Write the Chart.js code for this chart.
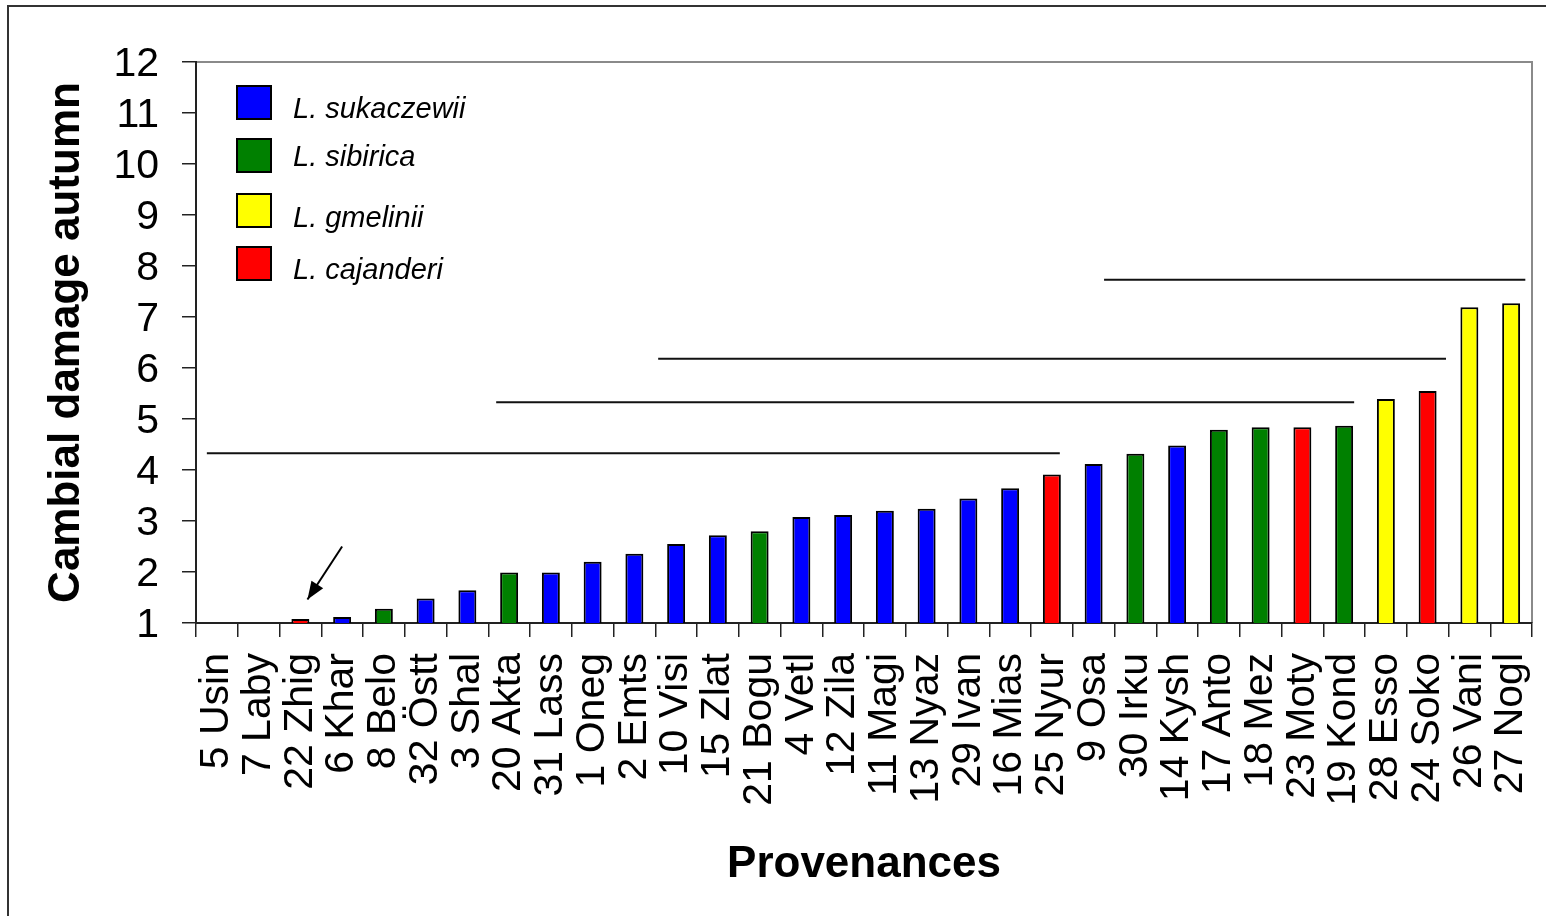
<!DOCTYPE html>
<html>
<head>
<meta charset="utf-8">
<title>Cambial damage autumn by provenance</title>
<script src="https://cdn.jsdelivr.net/npm/chart.js@4.4.1/dist/chart.umd.min.js"></script>
<style>
  html, body { margin: 0; padding: 0; background: #ffffff; }
  canvas { display: block; }
</style>
</head>
<body>
<canvas id="chart" width="1546" height="916"></canvas>
<script>
// Provenances, ordered by increasing damage score
const provenances = [
  "5 Usin", "7 Laby", "22 Zhig", "6 Khar", "8 Belo", "32 Östt", "3 Shal", "20 Akta",
  "31 Lass", "1 Oneg", "2 Emts", "10 Visi", "15 Zlat", "21 Bogu", "4 Vetl", "12 Zila",
  "11 Magi", "13 Nyaz", "29 Ivan", "16 Mias", "25 Nyur", "9 Osa", "30 Irku", "14 Kysh",
  "17 Anto", "18 Mez", "23 Moty", "19 Kond", "28 Esso", "24 Soko", "26 Vani", "27 Nogl"
];

// Mean cambial damage in autumn (scale 1-12)
const damage = [
  1.00, 1.00, 1.08, 1.12, 1.28, 1.48, 1.64, 1.99,
  1.99, 2.20, 2.36, 2.55, 2.72, 2.80, 3.08, 3.12,
  3.20, 3.24, 3.44, 3.64, 3.91, 4.12, 4.32, 4.48,
  4.79, 4.84, 4.84, 4.87, 5.39, 5.55, 7.19, 7.27
];

// Species of each provenance (index into speciesNames)
const speciesOf = [
  0, 0, 3, 0, 1, 0, 0, 1,
  0, 0, 0, 0, 0, 1, 0, 0,
  0, 0, 0, 0, 3, 0, 1, 0,
  1, 1, 3, 1, 2, 3, 2, 2
];

const speciesNames = ["L. sukaczewii", "L. sibirica", "L. gmelinii", "L. cajanderi"];
const speciesColors = ["#0000ff", "#008000", "#ffff00", "#ff0000"];

// Homogeneous groups: [from position, to position, level] in category units
const groupFrom  = [-0.24, 6.69, 10.57, 21.25];
const groupTo    = [20.19, 27.24, 29.44, 31.34];
const groupLevel = [4.33, 5.33, 6.18, 7.73];

// Arrow pointing at 22 Zhig: tail then head
const arrowX = [3.00, 2.17];
const arrowY = [2.50, 1.46];

const FONT = "'Liberation Sans', Arial, Helvetica, sans-serif";

const datasets = [{
  type: 'bar',
  data: damage,
  backgroundColor: speciesOf.map(s => speciesColors[s]),
  borderColor: '#000000',
  borderWidth: 2,
  grouped: false,
  barPercentage: 0.43,
  categoryPercentage: 1.0,
  xAxisID: 'x',
  yAxisID: 'y'
}];

groupLevel.forEach((lvl, i) => {
  datasets.push({
    type: 'line',
    data: [{ x: groupFrom[i], y: lvl }, { x: groupTo[i], y: lvl }],
    borderColor: '#111111',
    borderWidth: 2,
    pointRadius: 0,
    fill: false,
    xAxisID: 'xl',
    yAxisID: 'y'
  });
});

const arrowIndex = datasets.length;
datasets.push({
  type: 'line',
  data: arrowX.map((x, i) => ({ x: x, y: arrowY[i] })),
  borderColor: '#000000',
  borderWidth: 2,
  pointRadius: 0,
  fill: false,
  xAxisID: 'xl',
  yAxisID: 'y'
});

// Outer frame plus the grey top/right edges of the plot area
const framePlugin = {
  id: 'frame',
  beforeDraw(chart) {
    const ctx = chart.ctx;
    const a = chart.chartArea;
    ctx.save();
    ctx.strokeStyle = '#333333';
    ctx.lineWidth = 2;
    ctx.strokeRect(8, 6, chart.width, chart.height);
    ctx.strokeStyle = '#8a8a8a';
    ctx.lineWidth = 2;
    ctx.beginPath();
    ctx.moveTo(a.left, a.top);
    ctx.lineTo(a.right, a.top);
    ctx.lineTo(a.right, a.bottom);
    ctx.stroke();
    ctx.restore();
  }
};

// Arrowhead at the end of the arrow line
const arrowHeadPlugin = {
  id: 'arrowHead',
  afterDatasetsDraw(chart) {
    const pts = chart.getDatasetMeta(arrowIndex).data;
    if (!pts || pts.length < 2) return;
    const p0 = pts[0], p1 = pts[1];
    const ang = Math.atan2(p1.y - p0.y, p1.x - p0.x);
    const len = 18, half = 7;
    const ctx = chart.ctx;
    ctx.save();
    ctx.translate(p1.x, p1.y);
    ctx.rotate(ang);
    ctx.fillStyle = '#000000';
    ctx.beginPath();
    ctx.moveTo(0, 0);
    ctx.lineTo(-len, -half);
    ctx.lineTo(-len, half);
    ctx.closePath();
    ctx.fill();
    ctx.restore();
  }
};

// Species key drawn inside the plot area
const speciesKeyPlugin = {
  id: 'speciesKey',
  afterDraw(chart) {
    const ctx = chart.ctx;
    const boxTops = [86, 139, 194, 247];
    const baselines = [118, 166, 227, 279];
    ctx.save();
    speciesNames.forEach((name, i) => {
      ctx.fillStyle = speciesColors[i];
      ctx.fillRect(237, boxTops[i], 34, 33);
      ctx.strokeStyle = '#000000';
      ctx.lineWidth = 2;
      ctx.strokeRect(237, boxTops[i], 34, 33);
      ctx.fillStyle = '#000000';
      ctx.font = 'italic 29px ' + FONT;
      ctx.textAlign = 'left';
      ctx.textBaseline = 'alphabetic';
      ctx.fillText(name, 293, baselines[i]);
    });
    ctx.restore();
  }
};

new Chart(document.getElementById('chart'), {
  type: 'bar',
  data: { labels: provenances, datasets: datasets },
  options: {
    responsive: false,
    animation: false,
    events: [],
    layout: { padding: { left: 0, top: 62, right: 14, bottom: 0 } },
    plugins: { legend: { display: false }, tooltip: { enabled: false } },
    scales: {
      x: {
        type: 'category',
        position: 'bottom',
        grid: { offset: true, drawOnChartArea: false, drawTicks: true, tickLength: 14, color: '#222222', lineWidth: 1.5 },
        border: { display: true, color: '#222222', width: 2 },
        ticks: { minRotation: 90, maxRotation: 90, autoSkip: false, padding: 16, color: '#000000', font: { family: FONT, size: 41 } },
        title: { display: true, text: 'Provenances', color: '#000000', font: { family: FONT, size: 44, weight: 'bold' }, padding: { top: 0, bottom: 25 } },
        afterFit(scale) {
          scale.height = 293;
          scale.paddingLeft = 0;
          scale.paddingRight = 0;
        }
      },
      xl: {
        type: 'linear',
        position: 'bottom',
        display: false,
        offset: false,
        grid: { offset: false },
        min: -0.5,
        max: 31.5
      },
      y: {
        type: 'linear',
        position: 'left',
        min: 1,
        max: 12,
        ticks: { stepSize: 1, autoSkip: false, padding: 23, labelOffset: 3, color: '#000000', font: { family: FONT, size: 41 } },
        grid: { drawOnChartArea: false, drawTicks: true, tickLength: 14, color: '#222222', lineWidth: 1.5 },
        border: { display: true, color: '#222222', width: 2 },
        title: { display: true, text: 'Cambial damage autumn', color: '#000000', font: { family: FONT, size: 44, weight: 'bold' }, padding: { top: 40, bottom: 0 } },
        afterFit(scale) {
          scale.width = 196;
          scale.paddingTop = 0;
          scale.paddingBottom = 0;
        }
      }
    }
  },
  plugins: [framePlugin, arrowHeadPlugin, speciesKeyPlugin]
});
</script>
</body>
</html>
